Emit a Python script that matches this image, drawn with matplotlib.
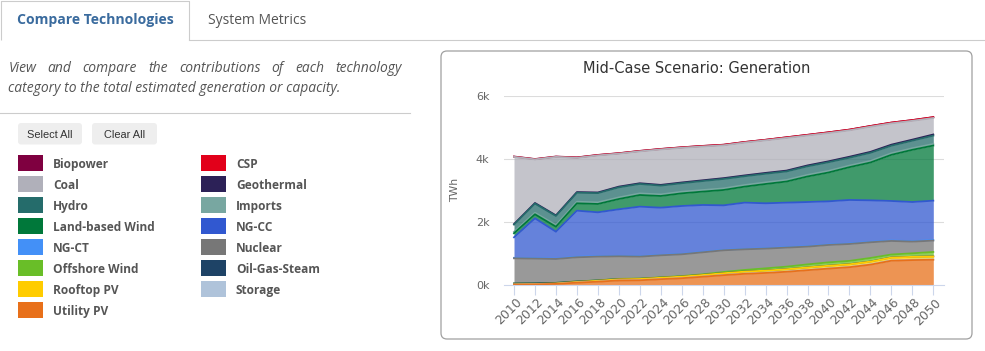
import matplotlib
matplotlib.use("Agg")
import matplotlib.pyplot as plt
from matplotlib.patches import FancyBboxPatch, Rectangle
import numpy as np

# ---------------- data ----------------
years = list(range(2010, 2051, 2))
utility_pv = [12, 22, 35, 75, 105, 145, 150, 185, 215, 262, 312, 355, 382, 420, 470, 520, 565, 645, 770, 790, 800]
storage = [1, 1, 2, 2, 3, 3, 4, 4, 5, 5, 6, 6, 7, 7, 8, 8, 8, 9, 9, 10, 10]
rooftop_pv = [5, 8, 12, 20, 26, 32, 36, 40, 45, 50, 56, 62, 66, 72, 78, 82, 84, 88, 90, 92, 95]
oil_gas_steam = [30, 22, 18, 14, 10, 8, 6, 5, 4, 4, 3, 3, 3, 2, 2, 2, 2, 2, 2, 2, 2]
offshore_wind = [0, 0, 0, 2, 4, 6, 8, 10, 14, 18, 35, 50, 70, 80, 95, 105, 105, 112, 95, 110, 140]
nuclear = [798, 783, 758, 765, 751, 716, 695, 697, 690, 697, 688, 655, 625, 604, 563, 552, 536, 498, 430, 371, 359]
ng_ct = [15, 15, 12, 20, 15, 15, 15, 12, 12, 12, 12, 12, 12, 15, 15, 15, 15, 15, 15, 15, 20]
ng_cc = [651, 1263, 853, 1458, 1390, 1474, 1569, 1498, 1519, 1488, 1413, 1467, 1425, 1410, 1399, 1368, 1380, 1315, 1252, 1240, 1247]
land_wind = [128, 127, 159, 234, 264, 327, 370, 370, 402, 424, 487, 508, 612, 670, 810, 914, 1040, 1198, 1463, 1655, 1747]
imports = [45, 50, 50, 50, 50, 50, 50, 50, 50, 50, 50, 50, 50, 50, 50, 50, 50, 50, 50, 50, 50]
hydro = [230, 290, 290, 285, 295, 320, 300, 280, 270, 285, 300, 280, 275, 270, 272, 276, 250, 258, 240, 240, 265]
geothermal = [17, 18, 18, 20, 20, 22, 22, 22, 24, 24, 25, 25, 26, 26, 28, 28, 30, 30, 32, 32, 35]
coal = [2129, 1383, 1854, 1087, 1175, 1046, 1012, 1124, 1100, 1072, 1042, 1042, 1033, 1036, 950, 898, 838, 798, 677, 597, 524]
csp = [5, 5, 5, 8, 10, 10, 10, 12, 12, 15, 15, 15, 15, 18, 18, 20, 20, 20, 22, 22, 25]
biopower = [6, 6, 6, 5, 5, 4, 4, 4, 3, 3, 3, 3, 2, 2, 2, 2, 2, 2, 1, 1, 1]

tech_names = ["Biopower", "CSP", "Coal", "Geothermal", "Hydro", "Imports", "Land-based Wind",
              "NG-CC", "NG-CT", "Nuclear", "Offshore Wind", "Oil-Gas-Steam", "Rooftop PV",
              "Storage", "Utility PV"]
tech_colors = ["#7f0040", "#e2001a", "#b0b0ba", "#2c2157", "#256c6b", "#78a7a1", "#00783a",
               "#3158d0", "#4390f7", "#777777", "#69be28", "#1e4366", "#ffcc00",
               "#afc3da", "#e8701a"]
tech_values = [biopower, csp, coal, geothermal, hydro, imports, land_wind, ng_cc, ng_ct,
               nuclear, offshore_wind, oil_gas_steam, rooftop_pv, storage, utility_pv]

y_ticks = [0, 2000, 4000, 6000]
y_tick_labels = ["0k", "2k", "4k", "6k"]
chart_title = "Mid-Case Scenario: Generation"
y_axis_title = "TWh"

W, H = 985, 351
fig = plt.figure(figsize=(W / 100, H / 100), dpi=100)
fig.patch.set_facecolor("white")
ui = fig.add_axes([0, 0, 1, 1])
ui.set_xlim(0, W)
ui.set_ylim(H, 0)
ui.axis("off")
renderer = fig.canvas.get_renderer()


def text_width(s, size, **kw):
    t = ui.text(0, 0, s, fontsize=size, **kw)
    w = t.get_window_extent(renderer).width
    t.remove()
    return w


def fit(s, target, **kw):
    return 10 * target / text_width(s, 10, **kw)


OS = "Open Sans"
grey_txt = "#555555"
line_col = "#cccccc"

# ---------------- tabs ----------------
ui.plot([1, 1, 189, 189], [39.5, 0.5, 0.5, 39.5], color=line_col, lw=0.8, solid_capstyle="butt")
ui.plot([189, W], [39.5, 39.5], color=line_col, lw=0.8)
fs = fit("Compare Technologies", 157, family=OS, weight="bold")
ui.text(95, 24.3, "Compare Technologies", family=OS, weight="bold", fontsize=fs,
        color="#3a6b9e", ha="center", va="baseline")
fs = fit("System Metrics", 98, family=OS)
ui.text(257, 24.3, "System Metrics", family=OS, fontsize=fs, color=grey_txt,
        ha="center", va="baseline")

# ---------------- description (justified) ----------------
line2 = "category to the total estimated generation or capacity."
fs_d = fit(line2, 332, family=OS, style="italic")
words = "View and compare the contributions of each technology".split()
ws = [text_width(w, fs_d, family=OS, style="italic") for w in words]
gap = (401.7 - 8.3 - sum(ws)) / (len(words) - 1)
x = 8.3
for w, wd in zip(words, ws):
    ui.text(x, 71.7, w, family=OS, style="italic", fontsize=fs_d, color=grey_txt,
            ha="left", va="baseline")
    x += wd + gap
ui.text(8.3, 91.7, line2, family=OS, style="italic", fontsize=fs_d, color=grey_txt,
        ha="left", va="baseline")
ui.plot([0, 410], [112.5, 112.5], color=line_col, lw=0.8)

# ---------------- buttons ----------------
for (x0, x1, lab) in [(18, 82, "Select All"), (92, 157, "Clear All")]:
    ui.add_patch(FancyBboxPatch((x0, 123), x1 - x0, 21.5,
                                boxstyle="round,pad=0,rounding_size=3",
                                fc="#eeeeee", ec="none"))
fs_b = fit("Select All", 45.7, family="Liberation Sans")
for (xc, lab) in [(50, "Select All"), (124.5, "Clear All")]:
    ui.text(xc, 138.3, lab, family="Liberation Sans", fontsize=fs_b, color="#333333",
            ha="center", va="baseline")

# ---------------- legend ----------------
fs_l = fit("Land-based Wind", 102, family=OS, weight="bold")
for i, (name, col) in enumerate(zip(tech_names, tech_colors)):
    colx = i % 2
    row = i // 2
    sx = 18 if colx == 0 else 201
    lx = 53.3 if colx == 0 else 236
    sy = 155 + 21 * row
    ui.add_patch(Rectangle((sx, sy), 25, 16, fc=col, ec="none"))
    ui.text(lx, 168.3 + 21 * row, name, family=OS, weight="bold", fontsize=fs_l,
            color=grey_txt, ha="left", va="baseline")

# ---------------- chart box ----------------
ui.add_patch(FancyBboxPatch((441, 51), 531, 288, boxstyle="round,pad=0,rounding_size=6",
                            fc="white", ec="#a0a0a0", lw=0.9))
fs_t = fit(chart_title, 226, family="DejaVu Sans")
ui.text(697, 72.7, chart_title, family="DejaVu Sans", fontsize=fs_t, color="#333333",
        ha="center", va="baseline")
ui.text(455, 190, y_axis_title, family="DejaVu Sans", fontsize=7.8, color="#666666",
        rotation=90, ha="center", va="center")

# ---------------- chart ----------------
top_px, bot_px, left_px, right_px = 95.7, 285, 504, 944
ax = fig.add_axes([left_px / W, (H - bot_px) / H, (right_px - left_px) / W, (bot_px - top_px) / H])
ax.set_facecolor("none")
ax.set_xlim(2009.045, 2051.02)
ax.set_ylim(0, 6000)
for s in ["top", "right", "left"]:
    ax.spines[s].set_visible(False)
ax.spines["bottom"].set_color("#ccd6eb")
ax.spines["bottom"].set_linewidth(0.8)
for g in y_ticks[1:]:
    ax.axhline(g, color="#dcdcdc", lw=0.8, zorder=0.5)

ax.set_yticks(y_ticks)
ax.set_yticklabels(y_tick_labels)
ax.tick_params(axis="y", length=0, pad=10.5, labelsize=8, labelcolor="#666666")
ax.set_xticks(years)
ax.set_xticklabels([])
ax.tick_params(axis="x", length=7.2, width=0.8, color="#ccd6eb", direction="out")
for yr in years:
    ax.annotate(str(yr), xy=(yr, 0), xycoords=("data", "axes fraction"),
                xytext=(1.0, -7.9), textcoords="offset points", rotation=45,
                rotation_mode="anchor", ha="right", va="top", fontsize=9,
                color="#666666", family="DejaVu Sans", annotation_clip=False)

# stacked areas: stack bottom = last series
vals = np.array(tech_values, dtype=float)
n = len(tech_names)
cum = np.zeros((n + 1, len(years)))
for k in range(n):
    cum[k + 1] = cum[k] + vals[n - 1 - k]
for i in range(n):  # drawing order: Biopower first
    k = n - 1 - i
    lower, upper = cum[k], cum[k + 1]
    ax.fill_between(years, lower, upper, color=tech_colors[i], alpha=0.75, lw=0,
                    zorder=2 + i * 0.02)
    ax.plot(years, upper, color=tech_colors[i], lw=1.3, zorder=2.01 + i * 0.02,
            solid_joinstyle="round")

fig.savefig("out.png", dpi=100, facecolor="white")
